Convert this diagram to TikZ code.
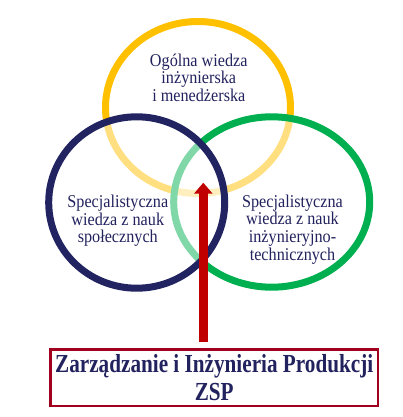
\documentclass[tikz,border=0pt]{standalone}
\usepackage{fontspec}
\setmainfont{Liberation Serif}
\newfontfamily\ringfont[FakeStretch=0.9]{Liberation Serif}
\newfontfamily\boxfont[FakeStretch=0.815]{Liberation Serif}
\usetikzlibrary{arrows.meta}
\definecolor{navytext}{HTML}{22225E}
\definecolor{ringblue}{HTML}{222462}
\definecolor{ringgold}{HTML}{FFC000}
\definecolor{ringgreen}{HTML}{00B050}
\definecolor{arrowred}{HTML}{C00000}
\definecolor{boxred}{HTML}{A0001E}
\tikzset{
  ring/.style={line width=7pt},
  veil/.style={fill=white, fill opacity=0.5},
  ringtext/.style={text=navytext, align=center, inner sep=0pt,
    font=\ringfont\fontsize{18}{17.7}\selectfont},
  zspbox/.style={draw=boxred, line width=2.3pt, text=navytext, align=center,
    inner sep=0pt, minimum width=327.3pt, minimum height=56.6pt,
    font=\boxfont\bfseries\fontsize{26}{27.7}\selectfont},
  bigarrow/.style={draw=arrowred, line width=8.5pt,
    -{Triangle[width=18pt,length=11pt]}}
}
\begin{document}
\begin{tikzpicture}[x=1pt,y=-1pt]
\useasboundingbox (0,0) rectangle (403,417);
% rings
\draw[ring, draw=ringgold] (198,107.5) ellipse [x radius=92.5, y radius=86];
\fill[veil] (271.7,202) ellipse [x radius=98, y radius=85.2];
\draw[ring, draw=ringgreen] (271.7,202) ellipse [x radius=98, y radius=85.2];
\fill[veil] (136.7,202.5) ellipse [x radius=88, y radius=85.7];
\draw[ring, draw=ringblue] (136.7,202.5) ellipse [x radius=88, y radius=85.7];
% texts
\node[ringtext] (general) at (198.8,77.7) {Ogólna wiedza\\inżynierska\\i menedżerska};
\node[ringtext] (social) at (117.8,220.8) {Specjalistyczna\\wiedza z nauk\\społecznych};
\node[ringtext] (technical) at (292.5,229.5) {Specjalistyczna\\wiedza z nauk\\inżynieryjno-\\technicznych};
% box and arrow
\node[zspbox] (zsp) at (214.2,377.8) {Zarządzanie i Inżynieria Produkcji\\ZSP};
\coordinate (tail) at (203.3,341.7);
\coordinate (tip) at (203.3,182.7);
\draw[bigarrow] (tail) -- (tip);
\end{tikzpicture}
\end{document}
